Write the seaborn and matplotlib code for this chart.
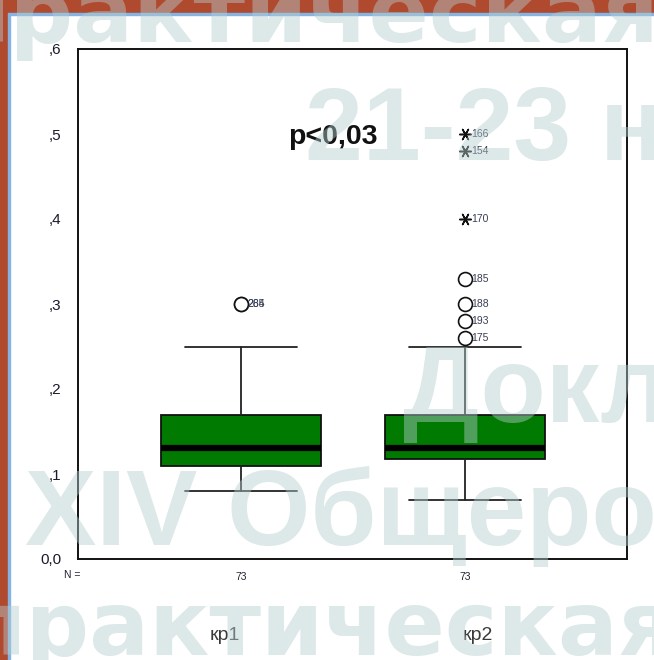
import matplotlib
matplotlib.use("Agg")
import matplotlib.pyplot as plt
import matplotlib.patches as mpatches
import numpy as np
import pandas as pd
import seaborn as sns

# Summary statistics of the two samples (SPSS-style boxplot)
groups = ["кр1", "кр2"]
n_counts = [73, 73]
whisker_low = [0.08, 0.07]
q1 = [0.11, 0.118]
medians = [0.131, 0.131]
q3 = [0.17, 0.17]
whisker_high = [0.25, 0.25]

# Outliers (circles) and extreme values (asterisks) with case numbers
outlier_group = ["кр1", "кр1", "кр2", "кр2", "кр2", "кр2"]
outlier_value = [0.30, 0.30, 0.33, 0.30, 0.28, 0.26]
outlier_case = ["265", "284", "185", "188", "193", "175"]
extreme_group = ["кр2", "кр2", "кр2"]
extreme_value = [0.50, 0.48, 0.40]
extreme_case = ["166", "154", "170"]

y_ticks = [0.0, 0.1, 0.2, 0.3, 0.4, 0.5, 0.6]
y_tick_labels = ["0,0", ",1", ",2", ",3", ",4", ",5", ",6"]
p_label = "p<0,03"

sns.set_theme(style="white")
plt.rcParams["font.family"] = ["Liberation Sans", "DejaVu Sans"]

W, H = 654, 660
fig = plt.figure(figsize=(W / 100, H / 100), dpi=100)
fig.patch.set_facecolor("white")


def fx(px):
    return px / W


def fy(py):
    return 1 - py / H


# slide frame: brown strips and thin blue rule
brown = "#b04a2f"
fig.patches.append(mpatches.Rectangle((0, fy(13)), 1, 13 / H, transform=fig.transFigure,
                                      color=brown, zorder=0))
fig.patches.append(mpatches.Rectangle((0, 0), fx(8), 1, transform=fig.transFigure,
                                      color=brown, zorder=0))
fig.patches.append(mpatches.Rectangle((fx(8), fy(15)), 1, 2 / H, transform=fig.transFigure,
                                      color="#86b4e2", zorder=0))
fig.patches.append(mpatches.Rectangle((fx(8), 0), 2 / W, fy(15), transform=fig.transFigure,
                                      color="#86b4e2", zorder=0))

ax_l, ax_r, ax_t, ax_b = 78, 627, 49, 559
ax = fig.add_axes([fx(ax_l), fy(ax_b), fx(ax_r - ax_l), (ax_b - ax_t) / H])
ax.set_facecolor("white")

positions = list(range(len(groups)))
stats = []
for i, g in enumerate(groups):
    stats.append(dict(label=g, whislo=whisker_low[i], q1=q1[i], med=medians[i],
                      q3=q3[i], whishi=whisker_high[i], fliers=[]))

ax.bxp(stats, positions=positions, widths=0.714, capwidths=0.5, patch_artist=True,
       showfliers=False,
       boxprops=dict(facecolor="#007a00", edgecolor="#111111", linewidth=1.3),
       medianprops=dict(color="black", linewidth=4.5, solid_capstyle="butt"),
       whiskerprops=dict(color="#222222", linewidth=1.3),
       capprops=dict(color="#222222", linewidth=1.3))

out_df = pd.DataFrame({"pos": [groups.index(g) for g in outlier_group],
                       "value": outlier_value, "case": outlier_case})
ext_df = pd.DataFrame({"pos": [groups.index(g) for g in extreme_group],
                       "value": extreme_value, "case": extreme_case})

sns.scatterplot(data=out_df, x="pos", y="value", ax=ax, marker="o", s=100,
                facecolors="white", edgecolor="#111111", linewidth=1.2, zorder=5)
sns.scatterplot(data=ext_df, x="pos", y="value", ax=ax, marker=(6, 2, 90), s=70,
                color="#111111", edgecolor="#111111", linewidth=1.1, zorder=5)

for df in (out_df, ext_df):
    for _, r in df.iterrows():
        ax.annotate(r["case"], (r["pos"], r["value"]), xytext=(4.5, 0),
                    textcoords="offset points", va="center", ha="left",
                    fontsize=7.5, color="#3a3f55", zorder=6)

ax.set_xlim(-0.728, 1.723)
ax.set_ylim(0, 0.6)
ax.set_yticks(y_ticks)
ax.set_yticklabels(y_tick_labels)
ax.set_xticks(positions)
ax.set_xticklabels([str(n) for n in n_counts])
ax.set_xlabel("")
ax.set_ylabel("")
ax.tick_params(axis="y", direction="out", length=4, width=2.5, color="black",
               labelsize=11, labelcolor="#1a1a2a", pad=8)
ax.tick_params(axis="x", direction="out", length=3, width=2.5, color="black",
               labelsize=7.5, labelcolor="#222233", pad=6)
for s in ax.spines.values():
    s.set_color("#111111")
    s.set_linewidth(1.4)
    s.set_visible(True)

ax.text(0.41, 0.496, p_label, transform=ax.transData, fontsize=20.5,
        fontweight="bold", color="#111111", ha="center", va="center", zorder=7)

fig.text(fx(72), fy(575), "N =", fontsize=7.5, color="#222233", ha="center", va="center")
fig.text(fx(225), fy(635), groups[0], fontsize=14, color="#3a3a3a", ha="center", va="center")
fig.text(fx(478), fy(635), groups[1], fontsize=14, color="#3a3a3a", ha="center", va="center")

# translucent slide watermark on top of everything
wm = dict(color="#b4cdd0", alpha=0.45, fontweight="bold", va="baseline", ha="left",
          zorder=20)
fig.text(fx(-52), fy(42), "практическая", fontsize=64, family=["DejaVu Sans"], **wm)
fig.text(fx(305), fy(160), "21-23 н", fontsize=75, family=["Liberation Sans"], **wm)
fig.text(fx(403), fy(422), "Докл", fontsize=77, family=["Liberation Sans"], **wm)
fig.text(fx(25), fy(545), "XIV Общеро", fontsize=77, family=["Liberation Sans"], **wm)
fig.text(fx(-35), fy(655), "практическая", fontsize=64, family=["DejaVu Sans"], **wm)

fig.savefig("out.png", dpi=100)
